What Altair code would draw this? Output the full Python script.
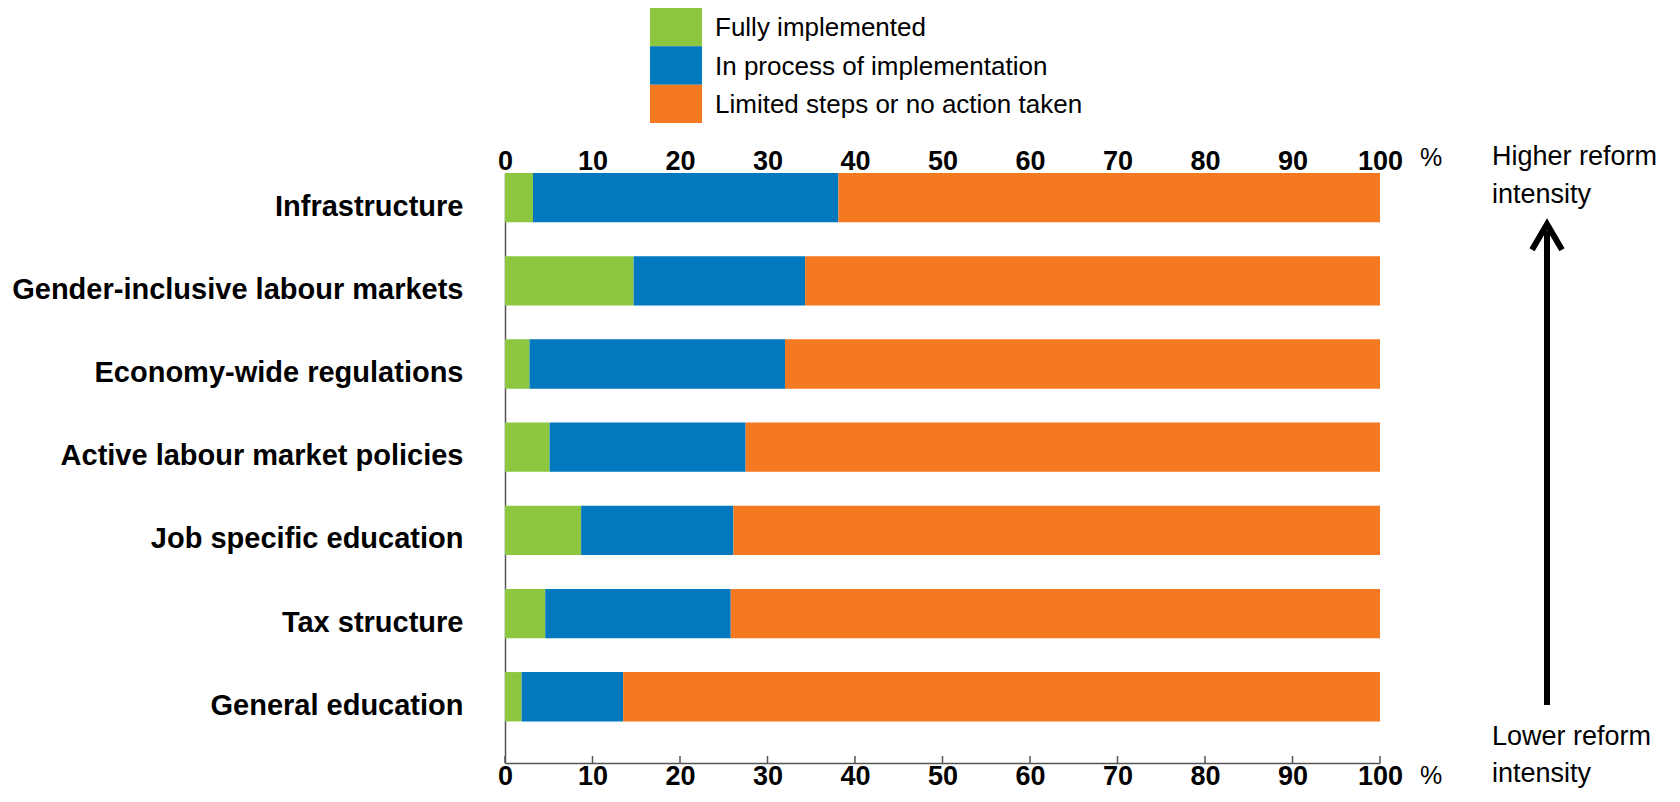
import altair as alt
import pandas as pd

categories = [
    "Infrastructure",
    "Gender-inclusive labour markets",
    "Economy-wide regulations",
    "Active labour market policies",
    "Job specific education",
    "Tax structure",
    "General education",
]
fully = [3.2, 14.7, 2.8, 5.1, 8.7, 4.6, 1.9]
in_process = [34.9, 19.6, 29.2, 22.4, 17.4, 21.2, 11.6]
limited = [61.9, 65.7, 68.0, 72.5, 73.9, 74.2, 86.5]

status_labels = ["Fully implemented", "In process of implementation", "Limited steps or no action taken"]
status_colors = ["#8DC63F", "#0278BE", "#F47920"]
x_ticks = [0, 10, 20, 30, 40, 50, 60, 70, 80, 90, 100]

rows = []
for i, c in enumerate(categories):
    for k, (s, vals) in enumerate(zip(status_labels, [fully, in_process, limited])):
        rows.append({"category": c, "status": s, "value": vals[i], "order": k})
df = pd.DataFrame(rows)

FONT = "Liberation Sans, Arial, Helvetica, sans-serif"
W, H = 875, 590
AXIS_COLOR = "#555555"

xscale = alt.Scale(domain=[0, 100], nice=False)
color_scale = alt.Scale(domain=status_labels, range=status_colors)

bars = alt.Chart(df).mark_bar().encode(
    y=alt.Y(
        "category:N",
        sort=categories,
        title=None,
        scale=alt.Scale(paddingInner=0.407, paddingOuter=0.25, align=0),
        axis=alt.Axis(
            orient="left", ticks=False, domain=True, domainColor=AXIS_COLOR, domainWidth=1.5,
            labelFont=FONT, labelFontSize=29, labelFontWeight="bold", labelColor="#000000",
            labelPadding=42, labelOffset=9, labelLimit=600,
        ),
    ),
    x=alt.X(
        "value:Q",
        stack="zero",
        title=None,
        scale=xscale,
        axis=alt.Axis(
            orient="bottom", values=x_ticks, ticks=False, domainColor=AXIS_COLOR, domainWidth=1.5,
            labelFont=FONT, labelFontSize=27, labelFontWeight="bold", labelColor="#000000",
            labelBaseline="alphabetic", labelPadding=21, labelFlush=False, labelOverlap=False,
            grid=False,
        ),
    ),
    color=alt.Color("status:N", scale=color_scale, legend=None),
    order=alt.Order("order:Q"),
)

ticks_df = pd.DataFrame({"tick": x_ticks})
tick_marks = alt.Chart(ticks_df).mark_rule(color=AXIS_COLOR, strokeWidth=1.5).encode(
    x=alt.X(
        "tick:Q",
        title=None,
        scale=xscale,
        axis=alt.Axis(
            orient="top", values=x_ticks, ticks=False, domain=False,
            labelFont=FONT, labelFontSize=27, labelFontWeight="bold", labelColor="#000000",
            labelBaseline="alphabetic", labelPadding=4, labelFlush=False, labelOverlap=False,
            grid=False,
        ),
    ),
    y=alt.value(H),
    y2=alt.value(H - 7),
)

# Manual legend (top), drawn through its own band scale
legend_df = pd.DataFrame({"status": status_labels})
leg_y = alt.Y(
    "status:N", title=None, axis=None,
    scale=alt.Scale(domain=status_labels, range=[-165, -50], paddingInner=0, paddingOuter=0),
)
leg_rect = alt.Chart(legend_df).mark_rect().encode(
    y=leg_y, x=alt.value(145), x2=alt.value(197),
    color=alt.Color("status:N", scale=color_scale, legend=None),
)
leg_text = alt.Chart(legend_df).mark_text(
    align="left", baseline="middle", dy=1, font=FONT, fontSize=26, color="#000000"
).encode(y=leg_y, x=alt.value(210), text="status:N")
legend_layer = alt.layer(leg_rect, leg_text)

one = pd.DataFrame({"k": [0]})

pct_top = alt.Chart(one).mark_text(
    text="%", font=FONT, fontSize=25, align="center", baseline="alphabetic", color="#000000"
).encode(x=alt.value(926), y=alt.value(-7))
pct_bottom = alt.Chart(one).mark_text(
    text="%", font=FONT, fontSize=25, align="center", baseline="alphabetic", color="#000000"
).encode(x=alt.value(926), y=alt.value(H + 21))

higher = alt.Chart(one).mark_text(
    text=["Higher reform", "intensity"], font=FONT, fontSize=27, align="left",
    baseline="alphabetic", lineHeight=38, color="#000000"
).encode(x=alt.value(987), y=alt.value(-8))
lower = alt.Chart(one).mark_text(
    text=["Lower reform", "intensity"], font=FONT, fontSize=27, align="left",
    baseline="alphabetic", lineHeight=37, color="#000000"
).encode(x=alt.value(987), y=alt.value(572))

shaft = alt.Chart(one).mark_rule(color="#000000", strokeWidth=6).encode(
    x=alt.value(1042), y=alt.value(58), y2=alt.value(532)
)
head = alt.Chart(one).mark_point(
    shape="M-1,0.85L0,-0.85L1,0.85", filled=False, size=900, strokeWidth=6,
    color="#000000", opacity=1, strokeJoin="miter", strokeCap="butt"
).encode(x=alt.value(1042), y=alt.value(64))

chart = alt.layer(
    bars, tick_marks, pct_top, pct_bottom, higher, lower, shaft, head, legend_layer
).resolve_scale(
    y="independent"
).properties(
    width=W,
    height=H,
    padding={"left": 497, "top": 165, "right": 292, "bottom": 31},
    autosize=alt.AutoSizeParams(type="none"),
).configure_view(stroke=None).configure_axis(grid=False)

chart.save("out.html", embed_options={"renderer": "svg", "actions": False})
